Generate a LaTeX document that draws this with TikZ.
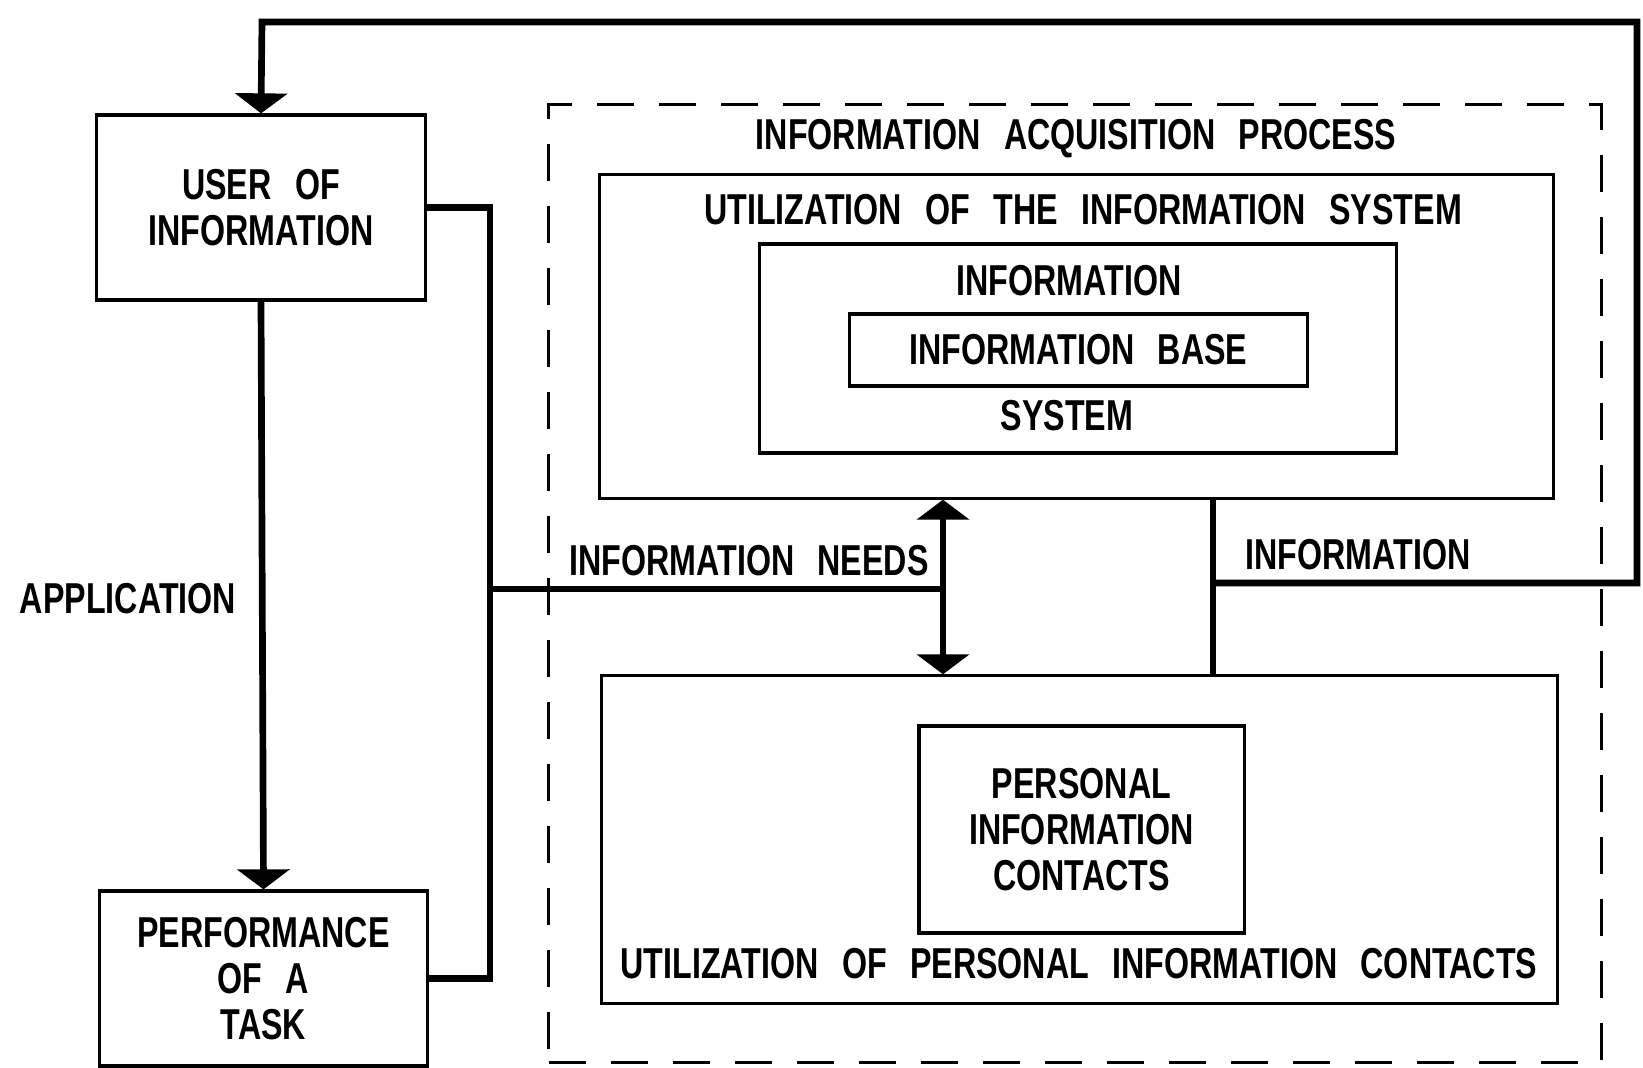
\documentclass[tikz,border=0pt]{standalone}
\usepackage{fontspec}
\setmainfont{Liberation Sans Bold}[FakeStretch=0.745, WordSpace=2.6]
\usetikzlibrary{arrows.meta}
\begin{document}
\begin{tikzpicture}[x=0.01cm, y=-0.01cm,
  every node/.style={font=\fontsize{12.3}{13.1}\selectfont},
  box/.style={draw, line width=0.9pt, inner sep=0pt, align=center},
  dashbox/.style={draw, line width=0.85pt, dash pattern=on 0.37cm off 0.25cm, inner sep=0pt},
  lbl/.style={inner sep=0pt, align=center},
  conn/.style={line width=1.9pt},
  tip/.style={-{Triangle[width=0.52cm,length=0.2cm]}},
  dtip/.style={{Triangle[width=0.52cm,length=0.2cm]}-{Triangle[width=0.52cm,length=0.2cm]}}
]
\useasboundingbox (0,0) rectangle (1643,1068);

% left column
\node[box, minimum width=3.28cm, minimum height=1.85cm] (user) at (261,207.5) {USER OF\\INFORMATION};
\node[box, minimum width=3.27cm, minimum height=1.75cm] (perf) at (263.5,978.5) {PERFORMANCE\\OF A\\TASK};
\node[lbl] (app) at (128,599) {APPLICATION};

% dashed process box
\node[dashbox, minimum width=10.52cm, minimum height=9.57cm] (acq) at (1075,583.5) {};
\node[lbl] (tacq) at (1076,139) {INFORMATION ACQUISITION PROCESS};

% utilization of the information system
\node[box, minimum width=9.53cm, minimum height=3.23cm] (util) at (1076.5,336.5) {};
\node[lbl] (tutil) at (1083,210) {UTILIZATION OF THE INFORMATION SYSTEM};
\node[box, minimum width=6.36cm, minimum height=2.09cm] (isys) at (1078,348.5) {};
\node[lbl] (tinfo) at (1069,281) {INFORMATION};
\node[lbl] (tsys) at (1067,416) {SYSTEM};
\node[box, minimum width=4.57cm, minimum height=0.72cm] (ibase) at (1078.5,350) {INFORMATION BASE};

% utilization of personal information contacts
\node[box, minimum width=9.55cm, minimum height=3.27cm] (pers) at (1079.5,839.5) {};
\node[box, minimum width=3.25cm, minimum height=2.07cm] (pic) at (1081.5,829.5) {PERSONAL\\INFORMATION\\CONTACTS};
\node[lbl] (tpers) at (1079,964) {UTILIZATION OF PERSONAL INFORMATION CONTACTS};

% connector labels
\node[lbl] (tneeds) at (749,561) {INFORMATION NEEDS};
\node[lbl] (tinf2) at (1358,555) {INFORMATION};

% coordinates
\coordinate (bx) at (490,589);
\coordinate (nx) at (943,589);
\coordinate (ix) at (1213,583);
\coordinate (rc) at (1637,583);
\coordinate (tr) at (1637,22);
\coordinate (tl) at (262,22);

% connectors
\draw[conn, tip] (user.south) -- (perf.north);
\draw[conn] (user.east) -| (bx) |- (perf.east);
\draw[conn] (bx) -- (nx);
\draw[conn, dtip] (util.south -| nx) -- (pers.north -| nx);
\draw[conn] (util.south -| ix) -- (pers.north -| ix);
\draw[conn, tip] (ix) -- (rc) -- (tr) -- (tl) -- (user.north);
\end{tikzpicture}
\end{document}
